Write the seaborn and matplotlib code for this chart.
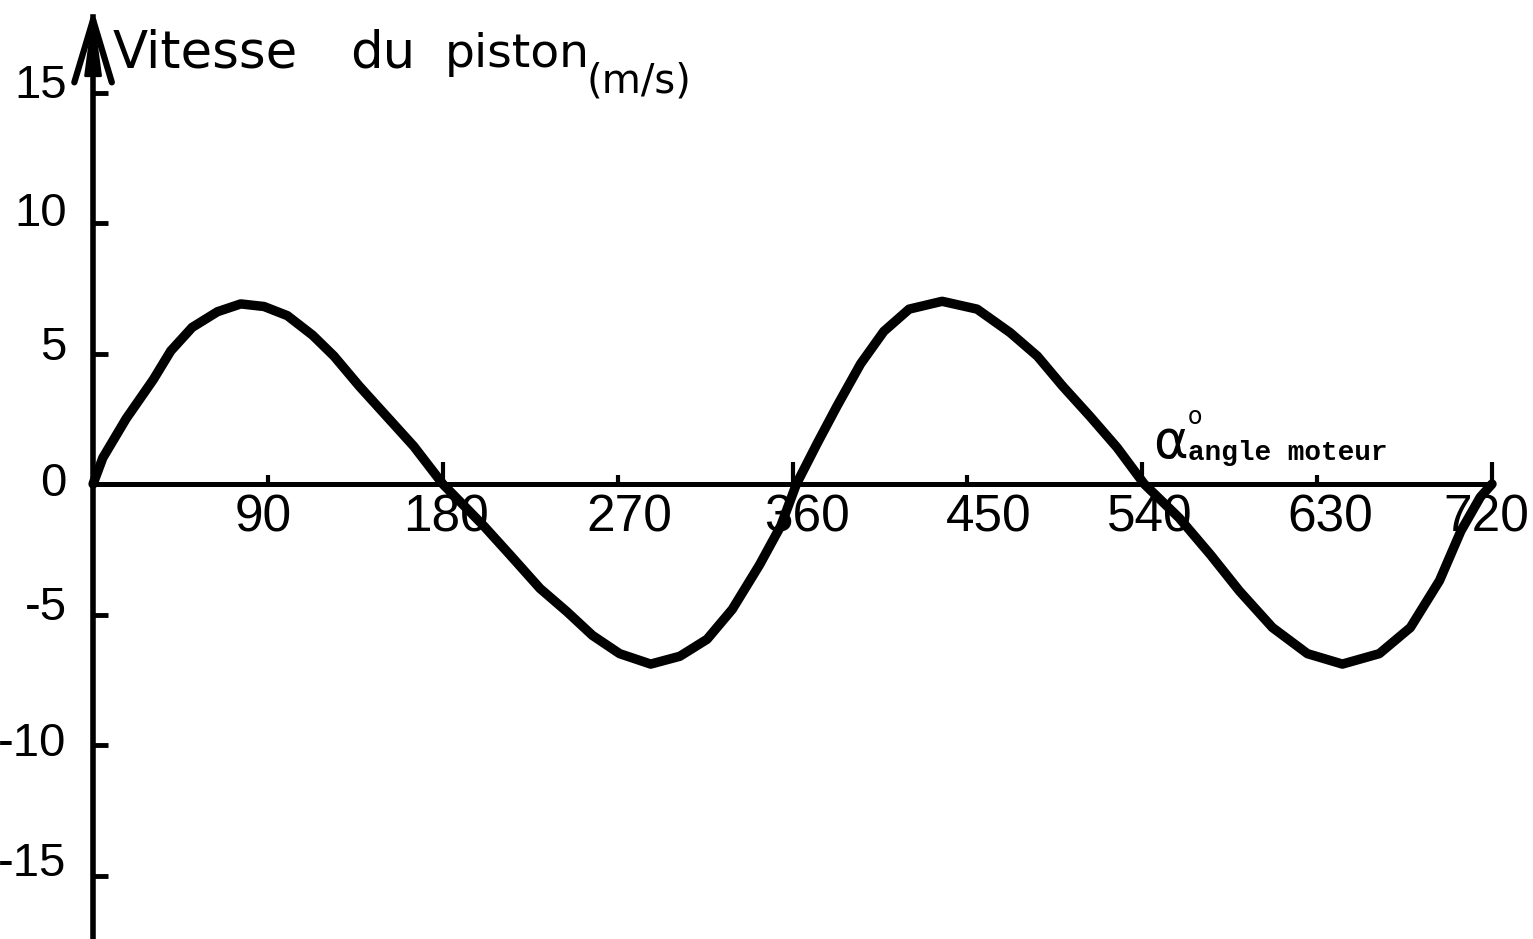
import matplotlib
matplotlib.use("Agg")
import matplotlib.pyplot as plt
import pandas as pd
import seaborn as sns
from matplotlib import font_manager
from matplotlib.transforms import ScaledTranslation

# Piston speed over two crank revolutions (angle in degrees, speed in m/s)
angle_deg = [0, 5, 17, 31, 40, 51, 64, 76, 88, 100, 113, 124, 137, 151, 165, 180,
             201, 215, 230, 244, 257, 271, 287, 302, 316, 329, 343, 354, 362,
             373, 383, 395, 407, 420, 437, 455, 472, 486, 499, 513, 527, 541,
             559, 575, 590, 607, 625, 643, 662, 678, 693, 704, 714, 720]
speed_ms = [0.0, 1.0, 2.5, 4.0, 5.1, 6.0, 6.6, 6.9, 6.8, 6.45, 5.7, 4.9, 3.75, 2.6, 1.45, 0.0,
            -1.6, -2.75, -4.0, -4.9, -5.8, -6.5, -6.9, -6.6, -5.95, -4.8, -3.1, -1.6, 0.0,
            1.6, 3.0, 4.6, 5.85, 6.7, 7.0, 6.7, 5.8, 4.9, 3.75, 2.6, 1.4, 0.0,
            -1.3, -2.7, -4.1, -5.5, -6.5, -6.9, -6.5, -5.5, -3.7, -1.8, -0.5, 0.0]

x_major = [180, 360, 540, 720]
x_major_labels = ["180", "360", "540", "720"]
x_minor = [90, 270, 450, 630]
x_minor_labels = ["90", "270", "450", "630"]
y_ticks = [-15, -10, -5, 0, 5, 10, 15]
y_labels = ["-15", "-10", "-5", "0", "5", "10", "15"]

title_words = ["Vitesse", "du", "piston"]
title_unit = "(m/s)"
angle_symbol = "\u03b1"
angle_name = "angle moteur"

# hand-lettered label placement nudges, in pixels
x_label_nudge = {"90": -5, "180": 3, "270": 12, "360": 14, "450": 21,
                 "540": 8, "630": 13, "720": -6}
y_label_nudge = {"15": 12, "10": 14, "5": 10, "0": 5, "-5": 11, "-10": 6, "-15": 16}

sns.set_theme(style="white")
plt.rcParams["font.family"] = ["DejaVu Sans"]


def first_font(names):
    available = {f.name for f in font_manager.fontManager.ttflist}
    for n in names:
        if n in available:
            return n
    return "DejaVu Sans"


digit_font = first_font(["Liberation Sans Narrow", "Liberation Sans"])
narrow = digit_font == "Liberation Sans Narrow"
x_digit_size = 40 if narrow else 37
y_digit_size = 40 if narrow else 34

W, H = 1533, 939
fig = plt.figure(figsize=(W / 100, H / 100), dpi=100)
fig.patch.set_facecolor("white")
ax = fig.add_axes([0, 0, 1, 1])
ax.set_facecolor("white")
ax.set_xlim(-47.9, 741.1)
ax.set_ylim(-(H - 484) / 26.1, 484 / 26.1)
ax.grid(False)

df = pd.DataFrame({"angle": angle_deg, "vitesse": speed_ms})
sns.lineplot(data=df, x="angle", y="vitesse", ax=ax, color="black", lw=6.8,
             sort=False, solid_capstyle="round", solid_joinstyle="round")
ax.set_xlabel("")
ax.set_ylabel("")

# Axes crossing at the origin
for side in ("top", "right"):
    ax.spines[side].set_visible(False)
ax.spines["left"].set_position(("data", 0))
ax.spines["bottom"].set_position(("data", 0))
ax.spines["left"].set_bounds(-18.0, 17.9)
ax.spines["bottom"].set_bounds(0, 720)
ax.spines["left"].set_linewidth(4.0)
ax.spines["bottom"].set_linewidth(3.6)
ax.spines["left"].set_color("black")
ax.spines["bottom"].set_color("black")

# Arrow head on the vertical axis
ax.annotate("", xy=(0, 18.2), xytext=(0, 16.0),
            arrowprops=dict(arrowstyle="->,head_length=1.0,head_width=0.3",
                            mutation_scale=45, lw=4.5, color="black",
                            shrinkA=0, shrinkB=0))
ax.annotate("", xy=(0, 18.2), xytext=(0, 16.5),
            arrowprops=dict(arrowstyle="-|>,head_length=0.9,head_width=0.12",
                            mutation_scale=45, lw=2, color="black",
                            shrinkA=0, shrinkB=0))

ax.set_xticks(x_major, x_major_labels)
ax.set_xticks(x_minor, x_minor_labels, minor=True)
ax.set_yticks(y_ticks, y_labels)
ax.tick_params(axis="x", which="major", direction="in", length=16, width=3,
               pad=7, labelsize=x_digit_size, colors="black", bottom=True)
ax.tick_params(axis="x", which="minor", direction="in", length=6.5, width=3,
               pad=7, labelsize=x_digit_size, colors="black", bottom=True)
ax.tick_params(axis="y", which="major", direction="in", length=11, width=3.5,
               pad=19, labelsize=y_digit_size, colors="black", left=True)

for lbl in ax.get_xticklabels(which="both"):
    lbl.set_fontfamily(digit_font)
    dx = x_label_nudge.get(lbl.get_text(), 0) * 0.72
    lbl.set_transform(lbl.get_transform()
                      + ScaledTranslation(dx / 72, 0, fig.dpi_scale_trans))
for lbl in ax.get_yticklabels():
    lbl.set_fontfamily(digit_font)
    dy = y_label_nudge.get(lbl.get_text(), 0) * 0.72
    lbl.set_transform(lbl.get_transform()
                      + ScaledTranslation(0, dy / 72, fig.dpi_scale_trans))


def px(x, y):
    return x / W, 1 - y / H


# Axis titles
for word, x0, size in zip(title_words, (113, 350, 445), (37, 37, 34)):
    fig.text(*px(x0, 67), word, fontsize=size, va="baseline", ha="left",
             family="DejaVu Sans", color="black")
fig.text(*px(586, 92), title_unit, fontsize=29, va="baseline", ha="left",
         family="DejaVu Sans", color="black")

fig.text(*px(1153, 458), angle_symbol, fontsize=38, va="baseline", ha="left",
         family="DejaVu Sans", color="black")
fig.text(*px(1188, 424), "o", fontsize=17, va="baseline", ha="left",
         family="DejaVu Sans", color="black")
fig.text(*px(1188, 460), angle_name, fontsize=20, va="baseline", ha="left",
         family=["Liberation Mono", "DejaVu Sans Mono"], weight="bold", color="black")

fig.savefig("out.png", dpi=100, facecolor="white")
